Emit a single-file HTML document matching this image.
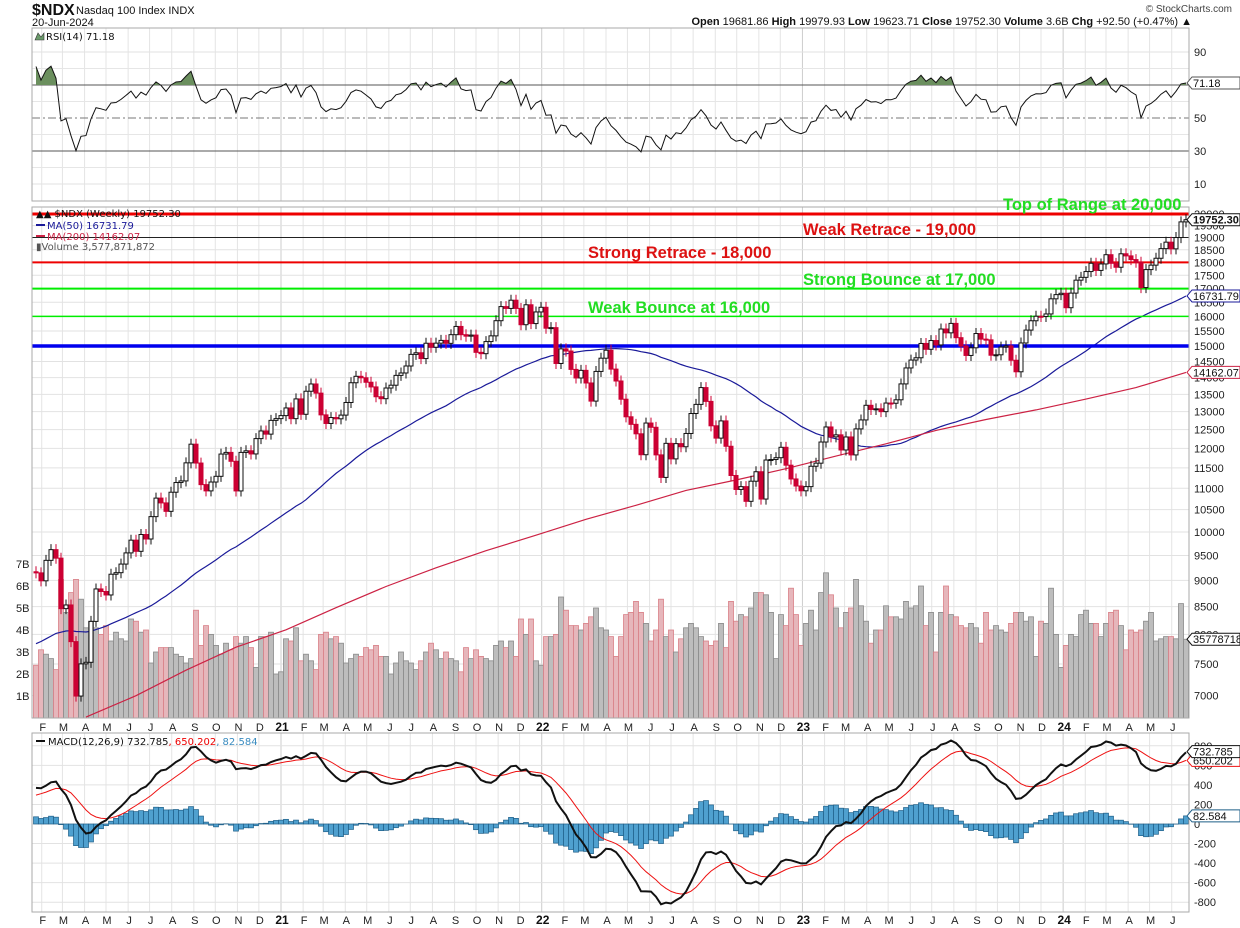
<!DOCTYPE html>
<html><head><meta charset="utf-8"><title>NDX weekly chart</title>
<style>
html,body{margin:0;padding:0;background:#fff;}
svg{display:block;font-family:"Liberation Sans",Arial,sans-serif;}
.ax{font-size:11px;fill:#222;}
.mo{font-size:11px;fill:#222;text-anchor:middle;}
.yr{font-size:12px;font-weight:bold;fill:#111;text-anchor:middle;}
.leg{font-family:"DejaVu Sans",Verdana,sans-serif;font-size:10px;}
.ann{font-size:16.5px;font-weight:bold;}
</style></head>
<body>
<svg id="chart" width="1240" height="928" viewBox="0 0 1240 928">
<defs>
<clipPath id="cpMain"><rect x="32" y="207" width="1157" height="511"/></clipPath>
<clipPath id="cpRsi"><rect x="32" y="28" width="1157" height="173"/></clipPath>
<clipPath id="cpMacd"><rect x="32" y="733" width="1157" height="179"/></clipPath>
<clipPath id="cpAbove70"><rect x="32" y="28" width="1157" height="57"/></clipPath>
<clipPath id="cpBelow30"><rect x="32" y="151" width="1157" height="50"/></clipPath>
</defs>
<g>
<text x="32" y="15" font-size="16" font-weight="bold" fill="#111">$NDX</text>
<text x="76" y="14" font-size="11" fill="#111">Nasdaq 100 Index  INDX</text>
<text x="32" y="26" font-size="11" fill="#111">20-Jun-2024</text>
<text x="1232" y="12" font-size="10" fill="#444" text-anchor="end">© StockCharts.com</text>
<text x="1192" y="25" font-size="11" fill="#111" text-anchor="end"><tspan font-weight="bold">Open</tspan> 19681.86  <tspan font-weight="bold">High</tspan> 19979.93  <tspan font-weight="bold">Low</tspan> 19623.71  <tspan font-weight="bold">Close</tspan> 19752.30  <tspan font-weight="bold">Volume</tspan> 3.6B  <tspan font-weight="bold">Chg</tspan> +92.50 (+0.47%) ▲</text>
</g>
<g id="grid"></g>
<g id="rsiG" clip-path="url(#cpRsi)"></g>
<g id="volG" clip-path="url(#cpMain)"></g>
<g id="maG" clip-path="url(#cpMain)"></g>
<g id="lvlG" clip-path="url(#cpMain)"></g>
<g id="candleG" clip-path="url(#cpMain)"></g>
<g id="macdG" clip-path="url(#cpMacd)"></g>
<g id="frames"></g>
<g id="labels"></g>
<g class="leg">
<text x="36" y="217" fill="#111">▲▲ $NDX (Weekly) 19752.30</text>
<rect x="36" y="224" width="9" height="2" fill="#1a1a99"/>
<text x="47" y="229" fill="#1a1a99">MA(50) 16731.79</text>
<rect x="36" y="235" width="9" height="2" fill="#cc2244"/>
<text x="47" y="240" fill="#cc2244">MA(200) 14162.07</text>
<text x="36" y="250" fill="#555">▮Volume 3,577,871,872</text>
</g>
<g class="leg">
<path d="M35 40 L38 33 L41 37 L44 33 L44 40 Z" fill="#6a9a6a" stroke="#333" stroke-width="0.6"/>
<text x="46" y="40" fill="#111">RSI(14) 71.18</text>
</g>
<g class="leg">
<rect x="36" y="740" width="9" height="2" fill="#111"/>
<text x="48" y="745" fill="#111">MACD(12,26,9) 732.785<tspan fill="#e00">, 650.202</tspan><tspan fill="#3a8cc0">, 82.584</tspan></text>
</g>
<g class="ann">
<text x="1003" y="210" fill="#22dd22">Top of Range at 20,000</text>
<text x="803" y="235" fill="#dd1111">Weak Retrace - 19,000</text>
<text x="588" y="258" fill="#dd1111">Strong Retrace - 18,000</text>
<text x="803" y="285" fill="#22dd22">Strong Bounce at 17,000</text>
<text x="588" y="313" fill="#22dd22">Weak Bounce at 16,000</text>
</g>
<g id="tags"></g>
</svg>
<script>
// ---- data ----
const preCloses = [6860,7100,7090,7050,7090,7090,7240,7150,7380,7470,7590,7690,7750,7780,7500,7430,7270,7240,6980,7240,7440,7550,7670,7530,7860,7900,7910,7860,7400,7470,7460,7660,7680,7770,7900,7810,7720,7800,7760,7920,8040,8200,8250,8370,8300,8400,8390,8450,8730,8770,8830,8930,9170];
const closes2020 = [9148,8991,9401,9623,9446,8462,8530,7875,6994,7502,7528,8230,8833,8784,8718,9121,9152,9325,9555,9824,9588,9946,9849,10341,10767,10655,10461,10906,11139,11178,11627,12110,11622,11088,10938,11151,11291,11852,11895,11667,10937,11895,11937,11855,12258,12464,12378,12755,12804,12888];
const closes2021 = [13105,12803,13366,12925,13591,13808,13535,12909,12669,12834,12799,12902,13262,13845,14041,13996,13860,13720,13429,13372,13687,13771,14069,14143,14360,14728,14780,14594,15090,14959,15093,15184,15087,15374,15653,15374,15325,15361,14794,14751,15145,15335,15850,16345,16280,16574,16280,15712,16410,15751,16155,16320];
const closes2022 = [15593,15612,14439,14906,14836,14254,13990,14224,13838,13302,14191,14606,14861,14263,13898,13357,12855,12645,12387,11835,12681,12564,11831,11264,12132,11728,12125,12042,12396,12947,13207,13700,13294,12605,12271,12740,12055,11311,10972,11040,10692,11171,11404,10745,11699,11712,11758,12028,11568,11226,11055,10940];
const closes2023 = [11040,11541,11619,12167,12573,12305,12359,11958,12302,11830,12520,12767,13181,13062,13080,13000,13246,13240,13340,13810,14299,14547,14620,15083,14892,15179,15035,15565,15436,15757,15274,14999,14694,14941,15413,15226,15202,14701,14715,14964,15002,14541,14180,15099,15529,15848,16004,15997,16085,16624,16777,16826];
const closes2024 = [16305,16832,17314,17421,17642,17963,17686,17937,18302,17962,17808,18339,18255,18108,18003,17037,17718,17890,18161,18546,18809,18537,19000,19659,19752.3];
const volumesA = [2.4,3.1,2.9,2.7,2.2,6.3,4.8,5.7,6.3,5.4,4.1,4.4,4.1,3.8,4.2,3.5,3.9,3.6,3.5,4.5,4.4,3.9,4.0,2.5,3.0,3.2,3.2,3.2,2.9,2.8,2.5,2.7,4.9,3.3,4.2,3.8,3.3,2.9,3.4,3.1,3.7,3.4,3.7,3.2,2.3,3.7,3.7,3.9,2.0,2.1,3.6,3.5,4.1,2.6,2.9,2.6,2.2,3.8];
const volumesB = [3.9,3.6,3.7,3.4,2.5,2.7,2.9,2.8,3.2,3.1,3.3,2.8,2.8,2.0,2.5,3.0,2.6,2.5,2.2,2.6,3.0,3.4,3.1,2.7,3.0,2.7,2.6,2.1,3.2,2.7,3.1,2.8,2.7,2.6,3.3,3.5,3.2,3.5,2.8,4.5,3.8,4.5,2.6,2.4,3.7,3.7,3.8,5.5,4.9,4.2,4.2,4.0,4.3,4.6,5.0,4.1,4.0,3.7,2.8,3.7,4.7,4.8,5.3,4.8,4.3,3.5,4.0,5.4,3.7,4.0,3.0,3.6,4.1,4.3,4.1,3.7,3.5,3.3,3.5,4.3,3.2,5.3,4.4,4.7,4.6,5.0];
const volumesC = [5.7,5.7,5.6,4.8,2.7,4.7,4.2,5.9,4.7,3.3,4.3,4.9,4.0,5.7,6.6,5.6,5.0,4.1,4.8,5.0,6.3,5.1,4.4,3.4,4.0,4.0,5.1,4.6,4.6,4.5,5.3,5.0,5.1,6.0,4.2,4.8,3.0,4.8,6.0,4.7,4.6,4.2,4.1,4.3,4.1,3.4,4.8,4.0,4.2,4.0,3.9,4.3,4.8,4.8,4.4,4.6,2.8,4.4,4.3,5.9,3.8,2.3,3.3,3.8,3.7,4.7,4.9,4.3,4.3,3.7,4.3,4.8,4.9,4.2,3.1,4.0,3.9,4.0,4.4,4.8,3.5,3.6,3.7,3.7,3.6,5.2,3.58];
const ma200Weeks = [10,20,30,40,50,60,70,80,90,100,110,120,130,140,150,160,170,180,190,200,210,220,230];
const ma200Values = [6680,7000,7400,7780,8080,8480,8880,9250,9600,9930,10280,10600,10950,11200,11480,11800,12120,12480,12780,13050,13360,13700,14162];
const priceTicks = [20000,19500,19000,18500,18000,17500,17000,16500,16000,15500,15000,14500,14000,13500,13000,12500,12000,11500,11000,10500,10000,9500,9000,8500,8000,7500,7000];
const volTicks = [1,2,3,4,5,6,7];
const volTickLabels = ["1B","2B","3B","4B","5B","6B","7B"];
const rsiTicks = [10,30,50,70,90];
const macdTicks = [800,600,400,200,0,-200,-400,-600,-800];
const levelPrices = [20000,19000,18000,17000,16000,15000];
const levelNames = ["top-of-range-line","weak-retrace-line","strong-retrace-line","strong-bounce-line","weak-bounce-line","support-15000-line"];
const levelColors = ["#ee0000","#222222","#ee0000","#00ee00","#00ee00","#0000ee"];
const levelWidths = [3,1,2,2,1.5,3.5];
const monthLetters = ["J","F","M","A","M","J","J","A","S","O","N","D"];

const closes = closes2020.concat(closes2021,closes2022,closes2023,closes2024);
const volumes = volumesA.concat(volumesB,volumesC);
const N = closes.length;
const all = preCloses.concat(closes);
const P = preCloses.length;

// ---- scales ----
const X0 = 36, DX = 5, START = Date.UTC(2020,0,24);
function xAt(i){ return X0 + DX*i; }
function xDate(ms){ return X0 + DX*(ms-START)/(7*86400000); }
function yP(p){ return 214 + 458.8*Math.log(20000/p); }
function yV(v){ return 718 - 22*v; }
function yR(r){ return 118 - (r-50)*1.65; }
function yM(m){ return 824 - m*0.0978; }

const NS = "http://www.w3.org/2000/svg";
function mk(tag, attrs, parent){
  const e = document.createElementNS(NS, tag);
  for (const k in attrs) e.setAttribute(k, attrs[k]);
  parent.appendChild(e); return e;
}
const grid = document.getElementById('grid');
const labels = document.getElementById('labels');

// ---- indicators ----
const ma50 = closes.map((c,i)=>{ let s=0; for(let k=P+i-49;k<=P+i;k++) s+=all[k]; return s/50; });
function ema(arr, n){ const a=2/(n+1); const out=[arr[0]]; for(let i=1;i<arr.length;i++) out.push(a*arr[i]+(1-a)*out[i-1]); return out; }
const e12 = ema(all,12), e26 = ema(all,26);
const macdAll = all.map((v,i)=>e12[i]-e26[i]);
const sigAll = ema(macdAll,9);
const macd = macdAll.slice(P), signal = sigAll.slice(P);
const rsiAll = [];
{ let ag=0, al=0;
  for(let i=1;i<all.length;i++){
    const d=all[i]-all[i-1], g=Math.max(d,0), l=Math.max(-d,0);
    if(i<=14){ ag+=g/14; al+=l/14; } else { ag=(ag*13+g)/14; al=(al*13+l)/14; }
    rsiAll[i] = al===0?100:100-100/(1+ag/al);
  } }
const rsi = rsiAll.slice(P);

// ---- grid ----
for (let y=2020;y<=2024;y++) for (let m=0;m<12;m++){
  const x = xDate(Date.UTC(y,m,1));
  if (x<33 || x>1188) continue;
  const yrLine = (m===0);
  [[28,201],[207,718],[733,912]].forEach(r=>{
    const ln = mk('line',{x1:x,x2:x,y1:r[0],y2:r[1],stroke:yrLine?'#cccccc':'#e4e4e4','stroke-width':1},grid);
    
    
  });
  [727,920].forEach(ty=>{
    const t = mk('text',{x:x+1,y:ty+4,class:yrLine?'yr':'mo'},labels);
    t.textContent = yrLine ? String(y).slice(2) : monthLetters[m];
    
    
  });
}
priceTicks.forEach(p=>{
  const y=yP(p);
  const ln = mk('line',{x1:32,x2:1189,y1:y,y2:y,stroke:'#e2e2e2'},grid);
  
  
  const t = mk('text',{x:1194,y:y+4,class:'ax'},labels);
  t.textContent = p;
  
  
});
volTicks.forEach((v,k)=>{
  const t = mk('text',{x:16,y:yV(v)+4,class:'ax'},labels);
  t.textContent = volTickLabels[k];
  
  
});
[20,40,60,80].forEach(r=>{
  const ln = mk('line',{x1:32,x2:1189,y1:yR(r),y2:yR(r),stroke:'#e6e6e6'},grid);
  
  
});
rsiTicks.forEach(r=>{
  const y=yR(r);
  const strong = (r===70||r===30);
  const ln = mk('line',{x1:32,x2:1189,y1:y,y2:y,stroke:strong?'#555':(r===50?'#777':'#e2e2e2'),'stroke-dasharray':r===50?'8,3,2,3':'none'},grid);
  
  
  const t = mk('text',{x:1194,y:y+4,class:'ax'},labels);
  t.textContent = r;
  
  
});
macdTicks.forEach(m=>{
  const y=yM(m);
  const ln = mk('line',{x1:32,x2:1189,y1:y,y2:y,stroke:'#e2e2e2'},grid);
  
  
  const t = mk('text',{x:1194,y:y+4,class:'ax'},labels);
  t.textContent = m;
  
  
});

// ---- RSI ----
const rsiG = document.getElementById('rsiG');
const rsiPts = rsi.map((r,i)=>xAt(i)+','+yR(r).toFixed(1));
const areaUp = 'M'+xAt(0)+','+yR(70)+' L'+rsiPts.join(' L')+' L'+xAt(N-1)+','+yR(70)+' Z';
const fa = mk('path',{d:areaUp,fill:'#6b8f5e','clip-path':'url(#cpAbove70)'},rsiG);


const fb = mk('path',{d:'M'+xAt(0)+','+yR(30)+' L'+rsiPts.join(' L')+' L'+xAt(N-1)+','+yR(30)+' Z',fill:'#c06060','clip-path':'url(#cpBelow30)'},rsiG);


const rl = mk('polyline',{points:rsiPts.join(' '),fill:'none',stroke:'#111','stroke-width':1},rsiG);



// ---- volume ----
const volG = document.getElementById('volG');
volumes.forEach((v,i)=>{
  const prev = i===0 ? preCloses[P-1] : closes[i-1];
  const down = closes[i] < prev;
  const r = mk('rect',{x:xAt(i)-2.5,y:yV(v),width:5,height:718-yV(v),fill:down?'#e6b6bb':'#bdbdbd',stroke:down?'#d98088':'#8a8a8a','stroke-width':0.8},volG);
  
  
});

// ---- moving averages ----
const maG = document.getElementById('maG');
const m50 = mk('polyline',{points:ma50.map((v,i)=>xAt(i)+','+yP(v).toFixed(1)).join(' '),fill:'none',stroke:'#1a1a99','stroke-width':1.2},maG);


const m200 = mk('polyline',{points:ma200Values.map((v,k)=>xAt(ma200Weeks[k])+','+yP(v).toFixed(1)).join(' '),fill:'none',stroke:'#cc2244','stroke-width':1.2},maG);



// ---- level lines ----
const lvlG = document.getElementById('lvlG');
levelPrices.forEach((p,k)=>{
  const ln = mk('line',{x1:32,x2:1189,y1:yP(p),y2:yP(p),stroke:levelColors[k],'stroke-width':levelWidths[k]},lvlG);
  
  
});

// ---- candles ----
const candleG = document.getElementById('candleG');
closes.forEach((c,i)=>{
  const o = i===0 ? preCloses[P-1] : closes[i-1];
  const hi = Math.max(o,c)*1.012, lo = Math.min(o,c)*0.988;
  const down = c < o;
  const col = down ? '#cc0033' : '#111';
  const x = xAt(i);
  const w = mk('line',{x1:x,x2:x,y1:yP(hi),y2:yP(lo),stroke:col,'stroke-width':1},candleG);
  
  
  const yt = yP(Math.max(o,c)), yb = yP(Math.min(o,c));
  const b = mk('rect',{x:x-2,y:yt,width:4,height:Math.max(yb-yt,1),fill:down?'#cc0033':'#fff',stroke:col,'stroke-width':1},candleG);
  
  
});

// ---- MACD ----
const macdG = document.getElementById('macdG');
macd.forEach((m,i)=>{
  const h = m - signal[i];
  const y0 = yM(0), y1 = yM(h);
  const r = mk('rect',{x:xAt(i)-2.5,y:Math.min(y0,y1),width:5,height:Math.abs(y1-y0),fill:'#4fa0cf',stroke:'#1f5f88','stroke-width':0.7},macdG);
  
  
});
const sl = mk('polyline',{points:signal.map((v,i)=>xAt(i)+','+yM(v).toFixed(1)).join(' '),fill:'none',stroke:'#ee1111','stroke-width':1},macdG);


const ml = mk('polyline',{points:macd.map((v,i)=>xAt(i)+','+yM(v).toFixed(1)).join(' '),fill:'none',stroke:'#111','stroke-width':2},macdG);



// ---- frames ----
const frames = document.getElementById('frames');
[[28,201,'rsi-panel'],[207,718,'price-panel'],[733,912,'macd-panel']].forEach(f=>{
  const r = mk('rect',{x:32,y:f[0],width:1157,height:f[1]-f[0],fill:'none',stroke:'#aaa','stroke-width':1},frames);
  
  
});

// ---- value tags ----
const tags = document.getElementById('tags');
function tag(y, txt, col, bold, name){
  const p = mk('path',{d:`M1187 ${y} L1192 ${y-6} L1240 ${y-6} L1240 ${y+6} L1192 ${y+6} Z`,fill:'#fff',stroke:col,'stroke-width':1},tags);
  
  
  const t = mk('text',{x:1193,y:y+4,'font-size':11,fill:'#111','font-weight':bold?'bold':'normal'},tags);
  t.textContent = txt;
  
  
}
tag(yP(closes[N-1]), closes[N-1].toFixed(2), '#111', true, 'last-price');
tag(yP(ma50[N-1]), '16731.79', '#1a1a99', false, 'ma50-value');
tag(yP(14162.07), '14162.07', '#cc2244', false, 'ma200-value');
tag(yV(volumes[N-1]), '35778718', '#111', false, 'volume-value');
tag(yR(rsi[N-1]), '71.18', '#555', false, 'rsi-value');
tag(yM(650), '650.202', '#ee1111', false, 'macd-signal-value');
tag(yM(740), '732.785', '#111', false, 'macd-value');
tag(yM(82.6), '82.584', '#1f5f88', false, 'macd-histogram-value');
</script>
</body></html>
